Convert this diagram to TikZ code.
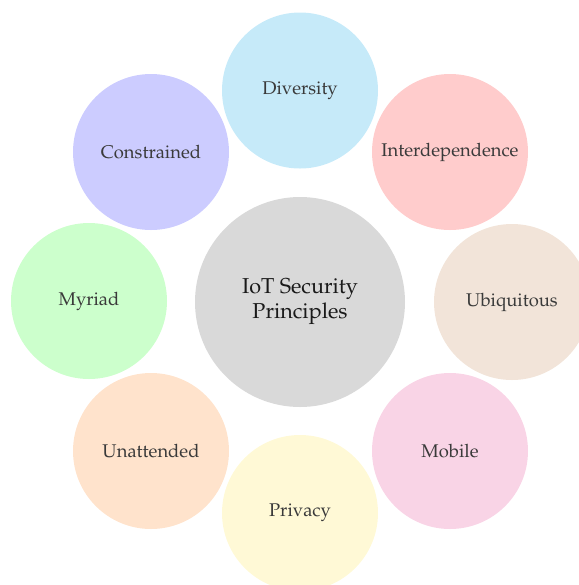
\documentclass[tikz,border=0pt]{standalone}
\usepackage[T1]{fontenc}
\usepackage{mathpazo}
\definecolor{cCenter}{HTML}{D9D9D9}
\definecolor{cDiv}{HTML}{C6EAF9}
\definecolor{cInter}{HTML}{FFCCCC}
\definecolor{cUbi}{HTML}{F2E4D9}
\definecolor{cMob}{HTML}{F9D4E6}
\definecolor{cPriv}{HTML}{FFF9D6}
\definecolor{cUnat}{HTML}{FFE3CC}
\definecolor{cMyr}{HTML}{CCFFCC}
\definecolor{cCons}{HTML}{CCCCFF}
\definecolor{txtOuter}{HTML}{3A3A3A}
\definecolor{txtCenter}{HTML}{1A1A1A}
\tikzset{
  bub/.style={circle, draw=none, inner sep=0pt, minimum size=78pt, text=txtOuter,
    font=\fontsize{9.2}{11}\selectfont},
  hub/.style={circle, draw=none, fill=cCenter, inner sep=0pt, minimum size=105pt, text=txtCenter,
    align=center, font=\fontsize{10.8}{12.5}\selectfont}
}
\begin{document}
\begin{tikzpicture}[x=0.5pt, y=-0.5pt]
\useasboundingbox (0,0) rectangle (579,585);
\node[hub] (center) at (300,302) {IoT Security\\Principles};
\node[bub, fill=cDiv] (div) at (300,90.5) {Diversity};
\node[bub, fill=cInter] (inter) at (450,152) {Interdependence};
\node[bub, fill=cUbi] (ubi) at (512,302) {Ubiquitous};
\node[bub, fill=cMob] (mob) at (450,451) {Mobile};
\node[bub, fill=cPriv] (priv) at (300,513) {Privacy};
\node[bub, fill=cUnat] (unat) at (151,451) {Unattended};
\node[bub, fill=cMyr] (myr) at (89,301) {Myriad};
\node[bub, fill=cCons] (cons) at (151,152) {Constrained};
\end{tikzpicture}
\end{document}
